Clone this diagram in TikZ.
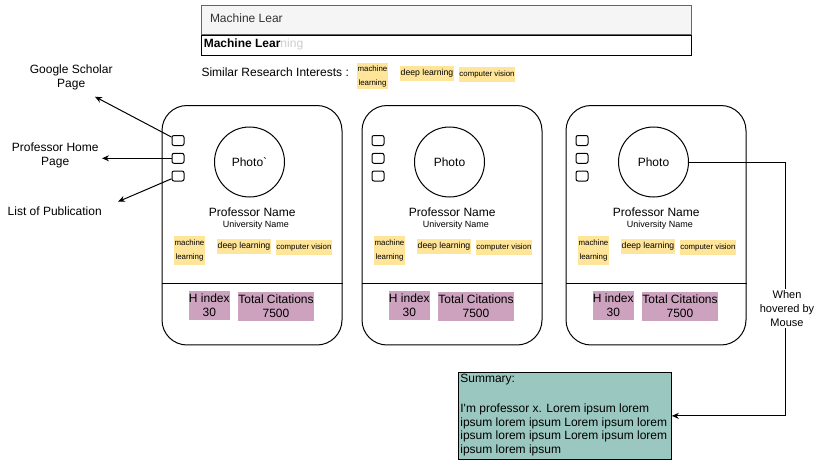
\documentclass[tikz,border=0pt]{standalone}
\usepackage{fontspec}
\setmainfont{Liberation Sans}
\usepackage{tikz}
\usetikzlibrary{arrows.meta}
\definecolor{tagyellow}{HTML}{FFE599}
\definecolor{statpurple}{HTML}{CDA2BE}
\definecolor{summteal}{HTML}{9AC7BF}
\definecolor{searchgray}{HTML}{F5F5F5}
\definecolor{searchline}{HTML}{666666}
\definecolor{searchtext}{HTML}{333333}
\definecolor{hintgray}{HTML}{CCCCCC}
\tikzstyle{card}=[draw, rounded corners=18.75pt, minimum width=135pt, minimum height=179.6pt, inner sep=0pt]
\tikzstyle{photo}=[circle, draw, minimum size=52.5pt, inner sep=0pt, font=\fontsize{9}{10.5}\selectfont]
\tikzstyle{chk}=[draw, rounded corners=1.5pt, minimum width=9pt, minimum height=7.5pt, inner sep=0pt]
\tikzstyle{tag}=[fill=tagyellow, inner sep=0pt, align=center, minimum height=11.25pt, font=\fontsize{6.5}{10.5}\selectfont]
\tikzstyle{tagsm}=[tag, font=\fontsize{5.9}{10.5}\selectfont]
\tikzstyle{stat}=[fill=statpurple, inner sep=0pt, align=center, minimum height=21.75pt, font=\fontsize{9}{10.5}\selectfont]
\tikzstyle{lbl}=[inner sep=0pt, align=center, font=\fontsize{9}{10.5}\selectfont]
\tikzstyle{arr}=[-{Stealth[length=5.25pt,width=4.5pt]}]

\begin{document}
\begin{tikzpicture}[x=0.75pt, y=-0.75pt, line width=0.75pt]
    \useasboundingbox (0,0) rectangle (819,471);

    % search field and suggestion
    \node[draw=searchline, fill=searchgray, minimum width=367.5pt, minimum height=22.25pt, inner sep=0pt] (search) at (446,20.15) {};
    \node[lbl, anchor=west, text=searchtext] (query) at (209.5,18.3) {Machine Lear};
    \node[draw, minimum width=367.5pt, minimum height=15pt, inner sep=0pt] (suggest) at (446,45) {};
    \node[lbl, anchor=west] (hint) at (203.3,44) {\textbf{Machine Lear}\textcolor{hintgray}{ning}};

    % similar interests
    \node[lbl, anchor=west] (similar) at (201,72.7) {Similar Research Interests :};
    \node[tagsm, minimum width=22.75pt, minimum height=20pt] (simML) at (372.5,76) {machine\\learning};
    \node[tag, minimum width=40.5pt] (simDL) at (427,73.3) {deep learning};
    \node[tagsm, minimum width=42pt] (simCV) at (487,74.3) {computer vision};

    % the three profile cards
    \foreach \c/\dx/\ph in {1/0/Photo\textasciigrave, 2/200/Photo, 3/404/Photo}{
      \node[card] (card\c) at (\dx+252,225.25) {};
      \draw (card\c.west |- 0,283) -- (card\c.east |- 0,283);
      \node[photo] (photo\c) at (\dx+249.5,162) {\ph};
      \foreach \k/\yy in {1/140.5, 2/158.3, 3/176}
        \node[chk] (cb\c-\k) at (\dx+178,\yy) {};
      \node[lbl] (prof\c) at (\dx+252.2,212.7) {Professor Name};
      \node[lbl, font=\fontsize{6.75}{8}\selectfont] (uni\c) at (\dx+256,225) {University Name};
      \node[tagsm, minimum width=23.25pt, minimum height=21.75pt] (ml\c) at (\dx+189.5,250.5) {machine\\learning};
      \node[tag, minimum width=40.5pt] (dl\c) at (\dx+244,246.2) {deep learning};
      \node[tagsm, minimum width=42pt] (cv\c) at (\dx+303.9,247.3) {computer vision};
      \node[stat, minimum width=30.75pt] (hidx\c) at (\dx+209.3,305.2) {H index\\30};
      \node[stat, minimum width=57pt] (cite\c) at (\dx+276,306.3) {Total Citations\\7500};
    }

    % links of the first card
    \node[lbl] (gsLbl) at (71.2,77.8) {Google Scholar\\Page};
    \node[lbl] (hpLbl) at (55.2,155) {Professor Home\\Page};
    \node[lbl] (lpLbl) at (54.7,211.7) {List of Publication};
    \coordinate (gsTip) at (95,96.7);
    \coordinate (hpTip) at (102,158.3);
    \coordinate (lpTip) at (118,201.7);
    \draw[arr] (cb1-1) -- (gsTip);
    \draw[arr] (cb1-2) -- (hpTip);
    \draw[arr] (cb1-3) -- (lpTip);

    % summary popup
    \node[draw, fill=summteal, anchor=north west, inner xsep=1.2pt, inner ysep=0pt,
          font=\fontsize{9}{10.3}\selectfont] (summary) at (458.3,371.7)
      {\parbox[t][65.5pt][t]{157pt}{\raggedright\vspace*{1.2pt}Summary:\\[12.4pt]
       I\textquotesingle m professor x. Lorem ipsum lorem\\
       ipsum lorem ipsum Lorem ipsum lorem\\
       ipsum lorem ipsum Lorem ipsum lorem\\
       ipsum lorem ipsum}};

    % hover connector
    \coordinate (bend) at (785,162);
    \draw[arr] (photo3.east) -- (bend) |- (summary.east);
    \node[lbl, fill=white, inner sep=1pt, font=\fontsize{8.25}{10.5}\selectfont] (hover) at (787,308.5) {When\\hovered by\\Mouse};

\end{tikzpicture}
\end{document}
